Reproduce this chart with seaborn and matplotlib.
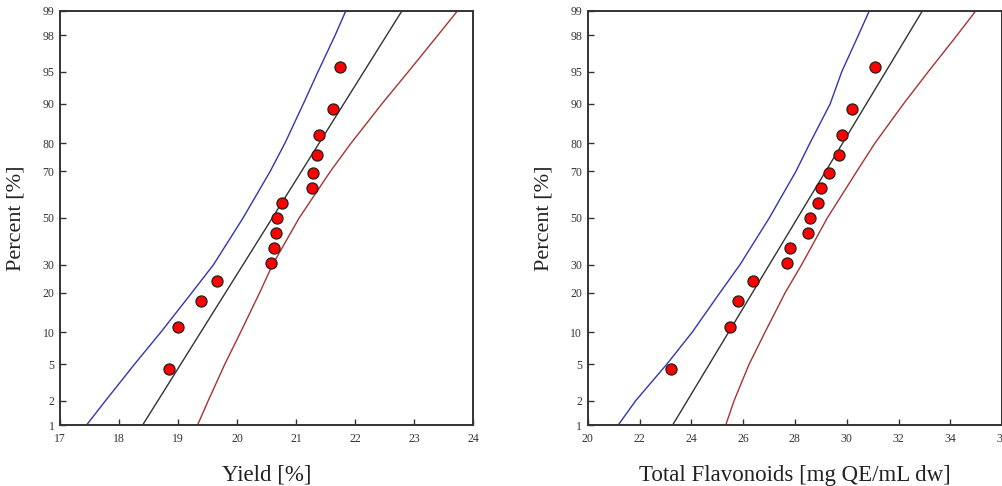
import math
import numpy as np
import pandas as pd
import matplotlib
matplotlib.use("Agg")
import matplotlib.pyplot as plt
import seaborn as sns

# ---------------- data ----------------
pct_points = [4.5, 11.0, 17.5, 24.0, 30.5, 37.0, 43.5, 50.0, 56.5, 63.0, 69.5, 76.0, 82.5, 89.0, 95.5]
yield_vals = [18.85, 19.00, 19.38, 19.66, 20.57, 20.62, 20.65, 20.67, 20.76, 21.27, 21.29, 21.35, 21.39, 21.63, 21.75]
flav_vals = [23.2, 25.5, 25.8, 26.4, 27.7, 27.8, 28.5, 28.6, 28.9, 29.0, 29.3, 29.7, 29.8, 30.2, 31.1]

fit_pct = [1, 99]
yield_fit = [18.40, 22.79]
flav_fit = [23.28, 32.92]

band_pct = [1, 2, 5, 10, 20, 30, 50, 70, 80, 90, 95, 98, 99]
yield_lower = [17.45, 17.77, 18.26, 18.71, 19.23, 19.60, 20.10, 20.56, 20.81, 21.12, 21.37, 21.66, 21.84]
yield_upper = [19.33, 19.51, 19.79, 20.06, 20.38, 20.60, 21.05, 21.58, 21.93, 22.45, 22.90, 23.40, 23.73]
flav_lower = [21.18, 21.85, 23.05, 24.04, 25.10, 25.88, 27.01, 28.04, 28.58, 29.36, 29.81, 30.45, 30.87]
flav_upper = [25.33, 25.65, 26.23, 26.85, 27.62, 28.26, 29.25, 30.39, 31.09, 32.19, 33.15, 34.26, 34.98]

y_ticks = [1, 2, 5, 10, 20, 30, 50, 70, 80, 90, 95, 98, 99]
yield_xticks = [17, 18, 19, 20, 21, 22, 23, 24]
flav_xticks = [20, 22, 24, 26, 28, 30, 32, 34, 36]

# ---------------- probability scale ----------------
_a = [-3.969683028665376e+01, 2.209460984245205e+02, -2.759285104469687e+02,
      1.383577518672690e+02, -3.066479806614716e+01, 2.506628277459239e+00]
_b = [-5.447609879822406e+01, 1.615858368580409e+02, -1.556989798598866e+02,
      6.680131188771972e+01, -1.328068155288572e+01]
_c = [-7.784894002430293e-03, -3.223964580411365e-01, -2.400758277161838e+00,
      -2.549732539343734e+00, 4.374664141464968e+00, 2.938163982698783e+00]
_d = [7.784695709041462e-03, 3.224671290700398e-01, 2.445134137142996e+00,
      3.754408661907416e+00]


def probit(pct):
    p = np.clip(np.asarray(pct, dtype=float) / 100.0, 1e-9, 1 - 1e-9)
    out = np.empty_like(p)
    plow = 0.02425
    with np.errstate(all="ignore"):
        lo = p < plow
        hi = p > 1 - plow
        mid = ~(lo | hi)
        q = np.sqrt(-2 * np.log(p[lo]))
        out[lo] = (((((_c[0]*q+_c[1])*q+_c[2])*q+_c[3])*q+_c[4])*q+_c[5]) / \
                  ((((_d[0]*q+_d[1])*q+_d[2])*q+_d[3])*q+1)
        q = np.sqrt(-2 * np.log(1 - p[hi]))
        out[hi] = -(((((_c[0]*q+_c[1])*q+_c[2])*q+_c[3])*q+_c[4])*q+_c[5]) / \
                   ((((_d[0]*q+_d[1])*q+_d[2])*q+_d[3])*q+1)
        q = p[mid] - 0.5
        r = q * q
        out[mid] = (((((_a[0]*r+_a[1])*r+_a[2])*r+_a[3])*r+_a[4])*r+_a[5])*q / \
                   (((((_b[0]*r+_b[1])*r+_b[2])*r+_b[3])*r+_b[4])*r+1)
    return out


_erf = np.vectorize(math.erf)


def inv_probit(z):
    z = np.asarray(z, dtype=float)
    return 50.0 * (1.0 + _erf(z / math.sqrt(2.0)))


# ---------------- style ----------------
sns.set_theme(style="white")
plt.rcParams["font.family"] = ["Liberation Serif", "DejaVu Serif"]

fig = plt.figure(figsize=(10.02, 4.86), dpi=100)
ax1 = fig.add_axes([60/1002, 61/486, 413.3/1002, 414/486])
ax2 = fig.add_axes([587.7/1002, 61/486, 414.4/1002, 414/486])

blue = "#3434b4"
red = "#a83232"
dark = "#333333"

panels = [
    (ax1, yield_vals, yield_fit, yield_lower, yield_upper, (17, 24), yield_xticks, "Yield [%]"),
    (ax2, flav_vals, flav_fit, flav_lower, flav_upper, (20, 36), flav_xticks, "Total Flavonoids [mg QE/mL dw]"),
]

for ax, xs, fit, lower, upper, xlim, xticks, xlabel in panels:
    ax.set_yscale("function", functions=(probit, inv_probit))
    df_low = pd.DataFrame({"x": lower, "p": band_pct})
    df_up = pd.DataFrame({"x": upper, "p": band_pct})
    df_fit = pd.DataFrame({"x": fit, "p": fit_pct})
    df_pts = pd.DataFrame({"x": xs, "p": pct_points})
    sns.lineplot(data=df_low, x="x", y="p", sort=False, estimator=None, ax=ax,
                 color=blue, linewidth=1.0)
    sns.lineplot(data=df_up, x="x", y="p", sort=False, estimator=None, ax=ax,
                 color=red, linewidth=1.0)
    sns.lineplot(data=df_fit, x="x", y="p", sort=False, estimator=None, ax=ax,
                 color=dark, linewidth=1.0)
    sns.scatterplot(data=df_pts, x="x", y="p", ax=ax, s=64, color="#ff0000",
                    edgecolor="#222222", linewidth=0.9, zorder=5)
    ax.set_xlim(*xlim)
    ax.set_ylim(1, 99)
    ax.set_xticks(xticks)
    ax.set_xticklabels([str(t) for t in xticks])
    ax.set_yticks(y_ticks)
    ax.set_yticklabels([str(t) for t in y_ticks])
    ax.yaxis.set_minor_locator(matplotlib.ticker.NullLocator())
    ax.tick_params(axis="both", which="major", direction="in", length=4.5, width=1.0,
                   color=dark, labelsize=8.5, labelcolor="#333333", pad=4,
                   bottom=True, left=True, top=False, right=False)
    ax.tick_params(axis="x", pad=6)
    for sp in ax.spines.values():
        sp.set_color(dark)
        sp.set_linewidth(1.4)
        sp.set_visible(True)
    ax.set_xlabel(xlabel, fontsize=16.5, color="#222222", labelpad=14)
    ax.set_ylabel("Percent [%]", fontsize=16, color="#222222", labelpad=12)
    ax.grid(False)

fig.savefig("out.png", dpi=100)
